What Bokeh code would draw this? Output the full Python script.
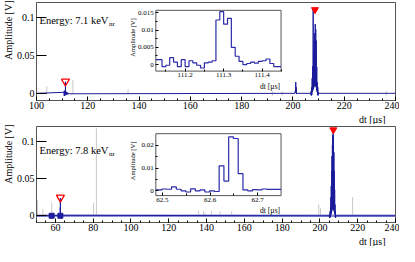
import math
from bokeh.plotting import figure
from bokeh.layouts import column
from bokeh.models import (Range1d, LinearAxis, FixedTicker, SingleIntervalTicker,
                          CustomJSTickFormatter, Label, Title)
from bokeh.embed import file_html
from bokeh.resources import INLINE

# ---------------- data ----------------
# top event (7.1 keV_nr): inset waveform around 111.3 us (10 ns samples)
top_inset_t = [111.124, 111.13, 111.14, 111.15, 111.16, 111.17, 111.18, 111.19,
               111.20, 111.21, 111.22, 111.23, 111.24, 111.25, 111.26, 111.27,
               111.28, 111.29, 111.30, 111.31, 111.32, 111.33, 111.34, 111.35,
               111.36, 111.37, 111.38, 111.39, 111.40, 111.41, 111.42, 111.43, 111.44]
top_inset_end = 111.449
top_inset_v = [0.0014, 0.0014, -0.0006, -0.0002, 0.0020, 0.0007, -0.0006, 0.0014,
               -0.0006, 0.0011, 0.0005, -0.0002, -0.0010, 0.0005, 0.0007, 0.0011,
               0.0129, 0.0153, 0.0117, 0.0134, 0.0050, 0.0024, 0.0009, 0.0000,
               0.0003, 0.0007, 0.0004, 0.0009, 0.0011, 0.0016, 0.0003, -0.0006, -0.0006]
top_spike_t = [200.8, 200.9, 201.0, 201.1, 201.2, 201.3, 201.4, 201.5]
top_spike_v = [0.0, 0.003, 0.001, 0.015, 0.002, 0.008, -0.001, 0.0]
top_peak_t = [206.9, 207.0, 207.1, 207.2, 207.3, 207.4, 207.5, 207.6, 207.7, 207.8,
              207.9, 208.0, 208.1, 208.2, 208.3, 208.4, 208.5, 208.6, 208.7, 208.8,
              208.9, 209.0, 209.1, 209.2, 209.3, 209.4, 209.5, 209.6, 209.7, 209.8,
              209.9, 210.0, 210.1]
top_peak_v = [0.0, -0.002, 0.003, -0.003, 0.008, -0.002, 0.020, 0.002, 0.036, 0.004,
              0.111, 0.006, 0.056, 0.008, 0.070, 0.010, 0.080, 0.012, 0.092, 0.010,
              0.085, 0.008, 0.070, 0.004, 0.035, 0.002, 0.015, -0.002, 0.008, -0.003,
              0.002, -0.001, 0.0]
top_grey_t = [104.0, 114.2, 135.7, 192.0, 195.8, 236.4]
top_grey_lo = [-0.001, -0.001, -0.001, -0.003, -0.003, -0.003]
top_grey_hi = [0.0095, 0.018, 0.0055, 0.003, 0.003, 0.003]
top_trig_t, top_trig_v = [111.29], [0.0158]
top_max_t, top_max_v = [208.6], [0.111]
top_base_t, top_base_v = [111.29], [0.0]

# bottom event (7.8 keV_nr): inset waveform around 62.63 us
bot_inset_t = [62.486, 62.489, 62.499, 62.509, 62.519, 62.529, 62.539, 62.549,
               62.559, 62.569, 62.579, 62.589, 62.599, 62.609, 62.619, 62.629,
               62.639, 62.649, 62.659, 62.669, 62.679, 62.689, 62.699, 62.709,
               62.719, 62.729, 62.739]
bot_inset_end = 62.749
bot_inset_v = [0.0004, 0.0004, 0.0008, 0.0007, 0.0017, 0.0007, 0.0000, -0.0005,
               0.0009, 0.0000, 0.0004, -0.0005, 0.0000, -0.0003, 0.0110, 0.0043,
               0.0237, 0.0230, 0.0076, 0.0004, 0.0000, 0.0005, 0.0004, 0.0008,
               0.0006, 0.0006, 0.0006]
bot_peak_t = [205.0, 205.1, 205.2, 205.3, 205.4, 205.5, 205.6, 205.7, 205.8, 205.9,
              206.0, 206.1, 206.2, 206.3, 206.4, 206.5, 206.6, 206.7, 206.8, 206.9,
              207.0, 207.1, 207.2, 207.3, 207.4, 207.5, 207.6, 207.7, 207.8, 207.9,
              208.0, 208.1, 208.2, 208.3, 208.4, 208.5]
bot_peak_v = [0.0, -0.003, 0.002, -0.002, 0.006, -0.002, 0.012, 0.0, 0.025, 0.002,
              0.040, 0.004, 0.060, 0.006, 0.080, 0.008, 0.095, 0.010, 0.108, 0.012,
              0.116, 0.010, 0.105, 0.008, 0.085, 0.006, 0.060, 0.004, 0.035, 0.002,
              0.015, -0.002, 0.006, -0.003, 0.001, 0.0]
bot_grey_t = [50.5, 53.4, 58.1, 80.2, 81.7, 135.8, 138.4, 139.2, 142.6, 147.2,
              153.3, 170.3, 199.4, 200.3, 217.3]
bot_grey_lo = [-0.001, -0.001, -0.001, -0.001, -0.001, -0.002, -0.002, -0.002,
               -0.002, -0.002, -0.002, -0.002, -0.001, -0.001, -0.001]
bot_grey_hi = [0.021, 0.009, 0.018, 0.017, 0.117, 0.007, 0.006, 0.004, 0.006,
               0.006, 0.006, 0.004, 0.015, 0.010, 0.025]
bot_trig_t, bot_trig_v = [62.64], [0.0245]
bot_max_t, bot_max_v = [207.1], [0.115]
bot_base_t, bot_base_v = [58.0, 62.64], [0.0, 0.0]

main_yticks = [0, 0.05, 0.1]
top_ins_xticks, top_ins_xminor = [111.2, 111.3, 111.4], [111.15, 111.25, 111.35, 111.45]
top_ins_yticks, top_ins_yminor = [0, 0.005, 0.01, 0.015], [0.0025, 0.0075, 0.0125]
bot_ins_xticks, bot_ins_xminor = [62.5, 62.6, 62.7], [62.55, 62.65]
bot_ins_yticks, bot_ins_yminor = [0, 0.01, 0.02], [0.005, 0.015]

# ---------------- style / layout ----------------
FONT = "Liberation Serif"
BLUE = "#1c1c9c"
GREY = "#c8c8c8"
FRAME = "#555555"
RED = "#ff0000"
W, ML, MR, MT, MB = 399, 20, 4, 2, 16


def fmt():
    return CustomJSTickFormatter(code="return String(Number(tick.toPrecision(6)));")


def style_axis(ax, size, tick_in, minor_in, standoff):
    ax.major_label_text_font = FONT
    ax.major_label_text_font_size = size
    ax.major_label_text_color = "black"
    ax.major_tick_in = tick_in
    ax.major_tick_out = 0
    ax.minor_tick_in = minor_in
    ax.minor_tick_out = 0
    ax.major_tick_line_color = "black"
    ax.minor_tick_line_color = "black"
    ax.axis_line_color = None
    ax.major_label_standoff = standoff
    ax.formatter = fmt()


def side_title(text, offset):
    return Title(text=text, align="right", offset=offset, standoff=0,
                 text_font=FONT, text_font_size="10px", text_font_style="normal",
                 text_color="black")


def full_range(a, b, f0, f1):
    span = (b - a) / (f1 - f0)
    s = a - f0 * span
    return Range1d(s, s + span)


def panel(height, xr, yr, wave_t, wave_v, grey, ins, marks, energy, e_yoff, band):
    p = figure(width=W, height=height, x_range=Range1d(*xr), y_range=Range1d(*yr),
               output_backend="svg", toolbar_location=None,
               min_border_left=ML, min_border_right=MR,
               min_border_top=MT, min_border_bottom=MB)
    p.grid.visible = False
    p.outline_line_color = FRAME
    p.outline_line_width = 1
    p.background_fill_color = "white"
    p.border_fill_color = "white"

    xa = p.below[0]
    xa.ticker = SingleIntervalTicker(interval=20, num_minor_ticks=4)
    style_axis(xa, "10px", 4, 2, 1)
    ya = p.left[0]
    ya.ticker = FixedTicker(ticks=main_yticks, minor_ticks=[])
    style_axis(ya, "10px", 10, 0, 2)
    p.add_layout(side_title("dt [µs]", 10), "below")
    p.add_layout(side_title("Amplitude [V]", -2), "left")

    gt, glo, ghi = grey
    p.segment(x0=gt, y0=glo, x1=gt, y1=ghi, line_color=GREY, line_width=1)
    if band:
        p.line(x=[wave_t[0], wave_t[-1]], y=[0, 0], line_color="#9090d8", line_width=2.5)
    p.line(x=wave_t, y=wave_v, line_color=BLUE, line_width=1)

    (trig_t, trig_v), (max_t, max_v), (base_t, base_v, base_marker, base_angle) = marks
    p.scatter(x=base_t, y=base_v, marker=base_marker, angle=base_angle, size=5,
              fill_color=BLUE, line_color=BLUE)
    p.scatter(x=trig_t, y=trig_v, marker="inverted_triangle", size=8,
              fill_color=None, line_color=RED, line_width=1.3)
    p.scatter(x=max_t, y=max_v, marker="inverted_triangle", size=7,
              fill_color=RED, line_color=RED)

    # inset
    it, iv, iend, ixr, iyr, xt, xm, yt, ym = ins
    fx, fy = (0.3324, 0.6812), ins_fy[height]
    p.extra_x_ranges = {"ix": full_range(ixr[0], ixr[1], fx[0], fx[1])}
    p.extra_y_ranges = {"iy": full_range(iyr[0], iyr[1], fy[0], fy[1])}
    p.quad(left=[ixr[0]], right=[ixr[1]], bottom=[iyr[0]], top=[iyr[1]],
           x_range_name="ix", y_range_name="iy",
           fill_color="white", line_color=FRAME, line_width=1)
    p.step(x=it + [iend], y=iv + [iv[-1]], mode="after", x_range_name="ix",
           y_range_name="iy", line_color="#2a2aaa", line_width=1.2)
    iax = LinearAxis(x_range_name="ix", y_range_name="iy", fixed_location=iyr[0],
                     bounds=(ixr[0], ixr[1]), ticker=FixedTicker(ticks=xt, minor_ticks=xm))
    style_axis(iax, "7px", 3, 2, 2)
    p.add_layout(iax, "below")
    iay = LinearAxis(x_range_name="ix", y_range_name="iy", fixed_location=ixr[0],
                     bounds=(iyr[0], iyr[1]), ticker=FixedTicker(ticks=yt, minor_ticks=ym))
    style_axis(iay, "7px", 3, 2, 2)
    p.add_layout(iay, "left")

    # texts inside the frame
    common = dict(text_font=FONT, text_color="black")
    p.add_layout(Label(x=xr[0], y=yr[1], x_offset=3, y_offset=e_yoff, text=energy,
                       text_align="left", text_baseline="alphabetic",
                       text_font_size="10.5px", **common))
    p.add_layout(Label(x=xr[0], y=yr[1], x_offset=3 + 69.5, y_offset=e_yoff - 3.5,
                       text="nr", text_align="left", text_baseline="alphabetic",
                       text_font_size="7px", **common))
    p.add_layout(Label(x=ixr[0], y=iyr[1], x_range_name="ix", y_range_name="iy",
                       x_offset=-23, y_offset=-8, angle=math.pi / 2,
                       text="Amplitude [V]", text_align="right", text_baseline="middle",
                       text_font_size="6.5px", **common))
    p.add_layout(Label(x=ixr[1], y=iyr[0], x_range_name="ix", y_range_name="iy",
                       x_offset=-1, y_offset=-15, text="dt [µs]", text_align="right",
                       text_baseline="alphabetic", text_font_size="7.5px", **common))
    return p


H1, H2 = 124, 122
ins_fy = {H1: (0.30, 0.92), H2: (0.28, 0.925)}

top_wave_t = [100.0] + top_inset_t + top_spike_t + top_peak_t + [240.0]
top_wave_v = [0.0] + top_inset_v + top_spike_v + top_peak_v + [0.0]
bot_wave_t = [50.0] + bot_inset_t + bot_peak_t + [240.0]
bot_wave_v = [0.0] + bot_inset_v + bot_peak_v + [0.0]

p1 = panel(H1, (100, 240), (-0.0095, 0.1205), top_wave_t, top_wave_v,
           (top_grey_t, top_grey_lo, top_grey_hi),
           (top_inset_t, top_inset_v, top_inset_end, (111.124, 111.449), (-0.0019, 0.0157),
            top_ins_xticks, top_ins_xminor, top_ins_yticks, top_ins_yminor),
           ((top_trig_t, top_trig_v), (top_max_t, top_max_v),
            (top_base_t, top_base_v, "triangle", -math.pi / 2)),
           "Energy: 7.1 keV", -18, False)
p2 = panel(H2, (50, 240), (-0.009, 0.1195), bot_wave_t, bot_wave_v,
           (bot_grey_t, bot_grey_lo, bot_grey_hi),
           (bot_inset_t, bot_inset_v, bot_inset_end, (62.486, 62.749), (-0.0021, 0.0251),
            bot_ins_xticks, bot_ins_xminor, bot_ins_yticks, bot_ins_yminor),
           ((bot_trig_t, bot_trig_v), (bot_max_t, bot_max_v),
            (bot_base_t, bot_base_v, "square", 0.0)),
           "Energy: 7.8 keV", -24, True)

layout = column(p1, p2, spacing=0)
open("out.html", "w").write(file_html(layout, INLINE))
